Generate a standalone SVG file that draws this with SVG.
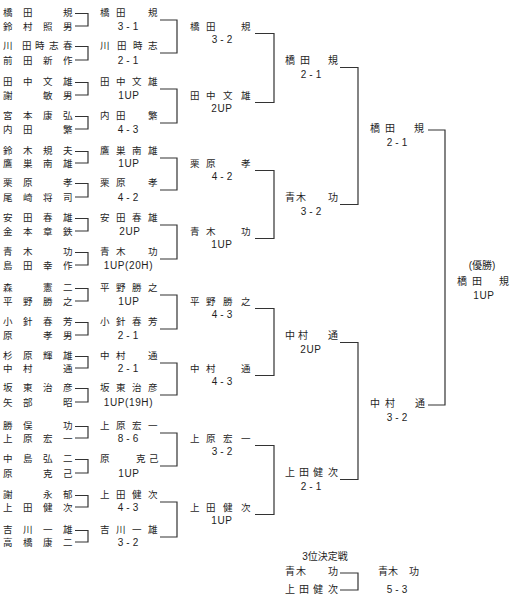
<svg xmlns="http://www.w3.org/2000/svg" width="513" height="600" viewBox="0 0 513 600">
<style>
text{font-family:"Liberation Sans","Noto Sans CJK JP",sans-serif;fill:#1e1e1e}
.n{font-size:9.5px}
.m{font-size:10px}
.s{font-size:10px;text-anchor:middle;letter-spacing:3px}
.u{font-size:10px;text-anchor:middle;letter-spacing:0.6px}
.c{font-size:10px;text-anchor:middle}
#connectors path{fill:none;stroke:#333;stroke-width:1.2}
</style>
<rect width="513" height="600" fill="#fff"/>
<g id="connectors">
<path d="M75,13.5H88V26H75"/><path d="M75,46.5H88V60H75"/><path d="M75,82.5H88V95H75"/><path d="M75,116.5H88V129H75"/>
<path d="M75,151.5H88V163H75"/><path d="M75,183.5H88V197H75"/><path d="M75,218.5H88V231H75"/><path d="M75,252.5H88V265H75"/>
<path d="M75,288.5H88V301H75"/><path d="M75,322.5H88V335H75"/><path d="M75,356.5H88V368H75"/><path d="M75,388.5H88V402H75"/>
<path d="M75,426.5H88V438H75"/><path d="M75,459.5H88V473H75"/><path d="M75,495.5H88V507H75"/><path d="M75,530.5H88V542H75"/>
<path d="M160,20H177V53H160"/><path d="M160,89H177V123H160"/><path d="M160,158H177V190H160"/><path d="M160,225H177V259H160"/>
<path d="M160,295H177V329H160"/><path d="M160,363H177V395H160"/><path d="M160,433H177V466H160"/><path d="M160,502H177V537H160"/>
<path d="M255,33.5H274V102.5H255"/><path d="M255,170.5H274V238.5H255"/><path d="M255,308.5H274V375.5H255"/><path d="M255,445.5H274V514.5H255"/>
<path d="M340,67.5H358V204.5H340"/><path d="M340,342.5H358V479.5H340"/>
<path d="M428,130H445V405H428"/>
<path d="M340,573H358V590H340"/>
</g>
<g id="round1">
<g id="p1"><text class="n" x="3 23 43 63" y="15.5">橋田　規</text><text class="n" x="3 23 43 63" y="29.5">鈴村照男</text></g>
<g id="p2"><text class="n" x="3 22 35 49 63" y="48.5">川田時志春</text><text class="n" x="3 23 43 63" y="63.5">前田新作</text></g>
<g id="p3"><text class="n" x="3 23 43 63" y="84.5">田中文雄</text><text class="n" x="3 23 43 63" y="98.5">謝　敏男</text></g>
<g id="p4"><text class="n" x="3 23 43 63" y="118.5">宮本康弘</text><text class="n" x="3 23 43 63" y="132.5">内田　繁</text></g>
<g id="p5"><text class="n" x="3 23 43 63" y="153.5">鈴木規夫</text><text class="n" x="3 23 43 63" y="166.5">鷹巣南雄</text></g>
<g id="p6"><text class="n" x="3 23 43 63" y="185.5">栗原　孝</text><text class="n" x="3 23 43 63" y="200.5">尾崎将司</text></g>
<g id="p7"><text class="n" x="3 23 43 63" y="220.5">安田春雄</text><text class="n" x="3 23 43 63" y="234.5">金本章鉄</text></g>
<g id="p8"><text class="n" x="3 23 43 63" y="254.5">青木　功</text><text class="n" x="3 23 43 63" y="268.5">島田幸作</text></g>
<g id="p9"><text class="n" x="3 23 43 63" y="290.5">森　憲二</text><text class="n" x="3 23 43 63" y="304.5">平野勝之</text></g>
<g id="p10"><text class="n" x="3 23 43 63" y="324.5">小針春芳</text><text class="n" x="3 23 43 63" y="338.5">原　孝男</text></g>
<g id="p11"><text class="n" x="3 23 43 63" y="358.5">杉原輝雄</text><text class="n" x="3 23 43 63" y="371.5">中村　通</text></g>
<g id="p12"><text class="n" x="3 23 43 63" y="390.5">坂東治彦</text><text class="n" x="3 23 43 63" y="405.5">矢部　昭</text></g>
<g id="p13"><text class="n" x="3 23 43 63" y="428.5">勝俣　功</text><text class="n" x="3 23 43 63" y="441.5">上原宏一</text></g>
<g id="p14"><text class="n" x="3 23 43 63" y="461.5">中島弘二</text><text class="n" x="3 23 43 63" y="476.5">原　克己</text></g>
<g id="p15"><text class="n" x="3 23 43 63" y="497.5">謝　永郁</text><text class="n" x="3 23 43 63" y="510.5">上田健次</text></g>
<g id="p16"><text class="n" x="3 23 43 63" y="532.5">吉川一雄</text><text class="n" x="3 23 43 63" y="545.5">高橋康二</text></g>
</g>
<g id="round2">
<g id="r2-1"><text class="n" x="100 116 132 148" y="15.5">橋田　規</text><text class="s" x="129.5" y="29.5">3-1</text></g>
<g id="r2-2"><text class="n" x="100 117 133 148" y="48.5">川田時志</text><text class="s" x="129.5" y="63.5">2-1</text></g>
<g id="r2-3"><text class="n" x="100 116 132 148" y="84.5">田中文雄</text><text class="u" x="129" y="98.5">1UP</text></g>
<g id="r2-4"><text class="n" x="100 116 132 148" y="118.5">内田　繁</text><text class="s" x="129.5" y="132.5">4-3</text></g>
<g id="r2-5"><text class="n" x="100 116 132 148" y="153.5">鷹巣南雄</text><text class="u" x="129" y="166.5">1UP</text></g>
<g id="r2-6"><text class="n" x="100 116 132 148" y="185.5">栗原　孝</text><text class="s" x="129.5" y="200.5">4-2</text></g>
<g id="r2-7"><text class="n" x="100 116 132 148" y="220.5">安田春雄</text><text class="u" x="130" y="234.5">2UP</text></g>
<g id="r2-8"><text class="n" x="100 116 132 148" y="254.5">青木　功</text><text class="u" x="128.5" y="268.5">1UP(20H)</text></g>
<g id="r2-9"><text class="n" x="100 116 132 148" y="290.5">平野勝之</text><text class="u" x="129" y="304.5">1UP</text></g>
<g id="r2-10"><text class="n" x="100 116 132 148" y="324.5">小針春芳</text><text class="s" x="129.5" y="338.5">2-1</text></g>
<g id="r2-11"><text class="n" x="100 116 132 148" y="358.5">中村　通</text><text class="s" x="129.5" y="371.5">2-1</text></g>
<g id="r2-12"><text class="n" x="100 116 132 148" y="390.5">坂東治彦</text><text class="u" x="128.5" y="405.5">1UP(19H)</text></g>
<g id="r2-13"><text class="n" x="100 116 132 148" y="428.5">上原宏一</text><text class="s" x="129.5" y="441.5">8-6</text></g>
<g id="r2-14"><text class="n" x="100 116 136 149" y="461.5">原　克己</text><text class="u" x="129" y="476.5">1UP</text></g>
<g id="r2-15"><text class="n" x="100 116 132 148" y="497.5">上田健次</text><text class="s" x="129.5" y="510.5">4-3</text></g>
<g id="r2-16"><text class="n" x="100 116 132 148" y="532.5">吉川一雄</text><text class="s" x="129.5" y="545.5">3-2</text></g>
</g>
<g id="round3">
<g id="r3-1"><text class="n" x="190 206 223 241" y="29.5">橋田　規</text><text class="s" x="223.5" y="43">3-2</text></g>
<g id="r3-2"><text class="n" x="190 206 223 241" y="98.5">田中文雄</text><text class="u" x="222" y="112">2UP</text></g>
<g id="r3-3"><text class="n" x="190 206 223 241" y="166.5">栗原　孝</text><text class="s" x="223.5" y="180">4-2</text></g>
<g id="r3-4"><text class="n" x="190 206 223 241" y="234.5">青木　功</text><text class="u" x="222" y="248">1UP</text></g>
<g id="r3-5"><text class="n" x="190 206 223 241" y="304.5">平野勝之</text><text class="s" x="223.5" y="318">4-3</text></g>
<g id="r3-6"><text class="n" x="190 206 223 241" y="371.5">中村　通</text><text class="s" x="223.5" y="385">4-3</text></g>
<g id="r3-7"><text class="n" x="190 206 223 241" y="441.5">上原宏一</text><text class="s" x="223.5" y="455">3-2</text></g>
<g id="r3-8"><text class="n" x="190 206 223 241" y="510.5">上田健次</text><text class="u" x="222" y="524">1UP</text></g>
</g>
<g id="round4">
<g id="r4-1"><text class="m" x="285 300 314 328" y="63.5">橋田　規</text><text class="s" x="312.5" y="77.5">2-1</text></g>
<g id="r4-2"><text class="m" x="285 296 312 328" y="200.5">青木　功</text><text class="s" x="312.5" y="214.5">3-2</text></g>
<g id="r4-3"><text class="m" x="285 298 313 328" y="338.5">中村　通</text><text class="u" x="311" y="352.5">2UP</text></g>
<g id="r4-4"><text class="m" x="285 299 313 328" y="475.5">上田健次</text><text class="s" x="312.5" y="489.5">2-1</text></g>
</g>
<g id="round5">
<g id="r5-1"><text class="m" x="370 385 399 414" y="131.5">橋田　規</text><text class="s" x="398.5" y="145.5">2-1</text></g>
<g id="r5-2"><text class="m" x="370 385 400 415" y="406.5">中村　通</text><text class="s" x="398.5" y="420.5">3-2</text></g>
</g>
<g id="champion">
<text class="c" x="482" y="268.5">(優勝)</text>
<text class="m" x="457 472 485 499" y="284.5">橋田　規</text>
<text class="u" x="484" y="298.5">1UP</text>
</g>
<g id="third-place">
<text class="c" x="325" y="559.5">3位決定戦</text>
<text class="m" x="285 296 312 328" y="574.5">青木　功</text>
<text class="m" x="285 299 313 328" y="592.5">上田健次</text>
<text class="m" x="378 388 399 409" y="574.5">青木　功</text>
<text class="s" x="398.5" y="592.5">5-3</text>
</g>
</svg>
